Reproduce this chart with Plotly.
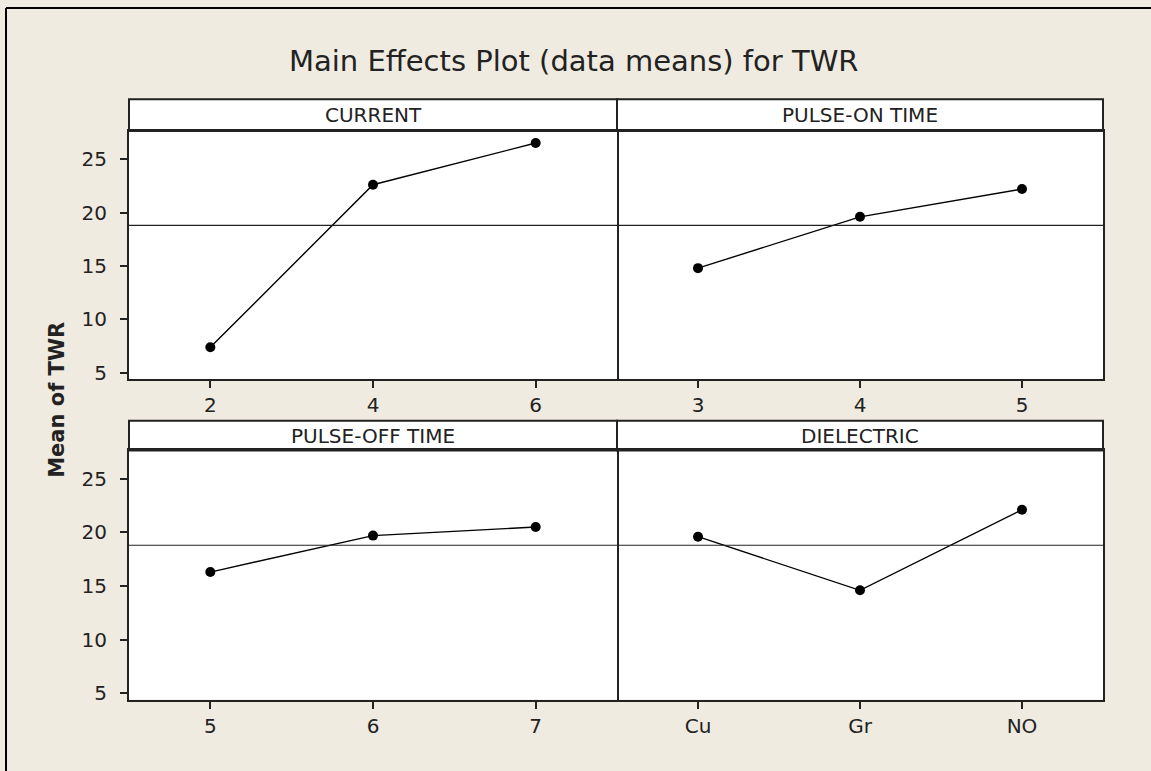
import plotly.graph_objects as go

# Factor levels and mean TWR at each level
current_levels = ["2", "4", "6"]
current_means = [7.4, 22.6, 26.5]

pulse_on_levels = ["3", "4", "5"]
pulse_on_means = [14.8, 19.6, 22.2]

pulse_off_levels = ["5", "6", "7"]
pulse_off_means = [16.3, 19.7, 20.5]

dielectric_levels = ["Cu", "Gr", "NO"]
dielectric_means = [19.6, 14.6, 22.1]

panel_titles = ["CURRENT", "PULSE-ON TIME", "PULSE-OFF TIME", "DIELECTRIC"]
grand_mean = 18.8
y_ticks = [5, 10, 15, 20, 25]
y_range = [4.43, 27.63]

W, H = 1151, 771
BG = "#EFEBE0"
INK = "#222222"
FONT = "DejaVu Sans"


def fx(p):
    return p / W


def fy(p):
    return 1 - p / H


cols = [(129, 617), (617, 1103)]
plot_rows = [(132, 382), (454, 705)]
head_rows = [(100, 132), (424, 454)]

panels = [
    (0, 0, current_levels, current_means),
    (0, 1, pulse_on_levels, pulse_on_means),
    (1, 0, pulse_off_levels, pulse_off_means),
    (1, 1, dielectric_levels, dielectric_means),
]

fig = go.Figure()
layout = {}
shapes = []
annotations = []

for i, (r, c, levels, means) in enumerate(panels):
    n = i + 1
    xa = "x" if n == 1 else f"x{n}"
    ya = "y" if n == 1 else f"y{n}"
    fig.add_trace(go.Scatter(
        x=levels, y=means, xaxis=xa, yaxis=ya, mode="lines+markers",
        line=dict(color="black", width=1.4),
        marker=dict(color="black", size=10),
        showlegend=False, hoverinfo="x+y",
    ))
    x0, x1 = cols[c]
    y0, y1 = plot_rows[r]
    key = "" if n == 1 else str(n)
    layout["xaxis" + key] = dict(
        domain=[fx(x0), fx(x1)], anchor=ya, type="category",
        range=[-0.5, 2.5], showgrid=False, zeroline=False,
        showline=True, mirror=True, linecolor=INK, linewidth=2,
        ticks="outside", ticklen=7, tickwidth=1.5, tickcolor=INK,
        tickfont=dict(family=FONT, size=20, color=INK),
        fixedrange=True,
    )
    if c == 0:
        # left column: ticked axis on the left, mirrored line forms the divider
        layout["yaxis" + key] = dict(
            domain=[fy(y1), fy(y0)], anchor=xa, range=y_range,
            tickvals=y_ticks, showgrid=False, zeroline=False,
            showline=True, mirror=True, linecolor=INK, linewidth=2,
            ticks="outside", ticklen=7, tickwidth=1.5, tickcolor=INK,
            ticklabelstandoff=9,
            tickfont=dict(family=FONT, size=20, color=INK),
            fixedrange=True,
        )
    else:
        # right column: only its outer right edge is drawn
        layout["yaxis" + key] = dict(
            domain=[fy(y1), fy(y0)], anchor=xa, range=y_range,
            tickvals=y_ticks, showgrid=False, zeroline=False, side="right",
            showline=True, mirror=False, linecolor=INK, linewidth=2,
            ticks="", showticklabels=False, fixedrange=True,
        )
    # grand-mean reference line
    shapes.append(dict(
        type="line", xref=f"{xa} domain", yref=ya, x0=0, x1=1,
        y0=grand_mean, y1=grand_mean, line=dict(color=INK, width=1.2),
    ))
    # header strip
    h0, h1 = head_rows[r]
    shapes.append(dict(
        type="rect", xref="paper", yref="paper",
        x0=fx(x0), x1=fx(x1), y0=fy(h1), y1=fy(h0),
        fillcolor="white", line=dict(color=INK, width=2), layer="below",
    ))
    annotations.append(dict(
        text=panel_titles[i], xref="paper", yref="paper",
        x=fx((x0 + x1) / 2), y=fy((h0 + h1) / 2),
        xanchor="center", yanchor="middle", showarrow=False,
        font=dict(family=FONT, size=20, color=INK),
    ))

# outer frame (top and left edges)
shapes.append(dict(type="line", xref="paper", yref="paper",
                   x0=fx(6), x1=1.01, y0=fy(8), y1=fy(8),
                   line=dict(color="black", width=2)))
shapes.append(dict(type="line", xref="paper", yref="paper",
                   x0=fx(6), x1=fx(6), y0=fy(8), y1=-0.01,
                   line=dict(color="black", width=2)))

annotations.append(dict(
    text="Main Effects Plot (data means) for TWR", xref="paper", yref="paper",
    x=fx(573), y=fy(61), xanchor="center", yanchor="middle", showarrow=False,
    font=dict(family=FONT, size=29, color=INK),
))
annotations.append(dict(
    text="<b>Mean of TWR</b>", xref="paper", yref="paper",
    x=fx(57), y=fy(403), xanchor="center", yanchor="middle", showarrow=False,
    textangle=-90, font=dict(family=FONT, size=21, color=INK),
))

fig.update_layout(
    width=W, height=H, margin=dict(l=0, r=0, t=0, b=0),
    paper_bgcolor=BG, plot_bgcolor="white",
    shapes=shapes, annotations=annotations, **layout,
)

fig.write_html("out.html")
